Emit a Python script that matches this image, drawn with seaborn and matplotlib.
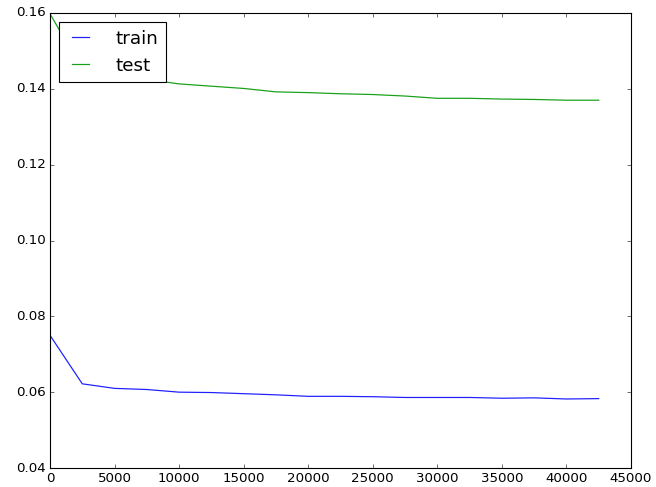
import matplotlib
matplotlib.use("Agg")
import matplotlib.pyplot as plt
import numpy as np
import pandas as pd
import seaborn as sns

steps = [0, 2500, 5000, 7500, 10000, 12500, 15000, 17500, 20000, 22500,
         25000, 27500, 30000, 32500, 35000, 37500, 40000, 42500]
train_loss = [0.0750, 0.0622, 0.0610, 0.0607, 0.0600, 0.0599, 0.0596, 0.0593,
              0.0589, 0.0589, 0.0588, 0.0586, 0.0586, 0.0586, 0.0584, 0.0585,
              0.0582, 0.0583]
test_loss = [0.1598, 0.1450, 0.1435, 0.1425, 0.1413, 0.1407, 0.1401, 0.1392,
             0.1390, 0.1387, 0.1385, 0.1381, 0.1375, 0.1375, 0.1373, 0.1372,
             0.1370, 0.1370]

df = pd.DataFrame({
    "step": steps * 2,
    "loss": train_loss + test_loss,
    "split": ["train"] * len(steps) + ["test"] * len(steps),
})

plt.style.use("classic")
fig, ax = plt.subplots(figsize=(656 / 80, 487 / 80), dpi=80)
fig.subplots_adjust(left=50 / 656, right=631 / 656, top=1 - 13 / 487, bottom=1 - 468 / 487)

sns.lineplot(data=df, x="step", y="loss", hue="split", palette=["#2020ff", "#18a018"],
             ax=ax, linewidth=1.1)
ax.set_xlim(0, 45000)
ax.set_ylim(0.04, 0.16)
ax.set_xlabel(""); ax.set_ylabel("")
ax.legend(loc="upper left", fontsize=16.5, handlelength=1.5, handletextpad=1.2,
          borderaxespad=0.5)

fig.savefig("out.png", dpi=80, facecolor="white")
